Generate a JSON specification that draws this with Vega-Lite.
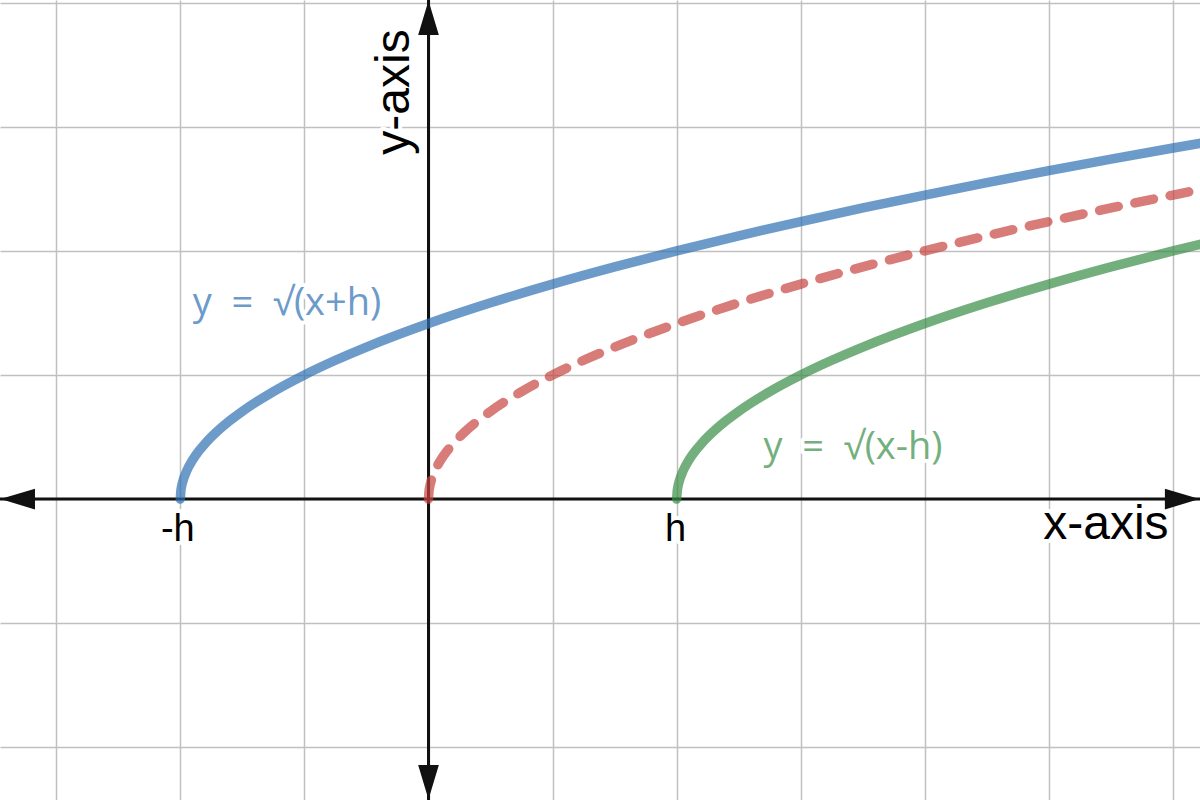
{
  "$schema": "https://vega.github.io/schema/vega-lite/v6.json",
  "width": 1200,
  "height": 800,
  "autosize": "none",
  "padding": 0,
  "background": "white",
  "config": {
    "view": {"stroke": null},
    "axis": {"grid": true, "gridColor": "#c0c0c0", "gridWidth": 1.5, "labels": false, "ticks": false, "domain": false, "title": null}
  },
  "datasets": {
    "curves": [
      {"curve": "blue", "x": -2, "y": 0},
      {"curve": "blue", "x": -1.995, "y": 0.0707},
      {"curve": "blue", "x": -1.99, "y": 0.1},
      {"curve": "blue", "x": -1.98, "y": 0.1414},
      {"curve": "blue", "x": -1.95, "y": 0.2236},
      {"curve": "blue", "x": -1.9, "y": 0.3162},
      {"curve": "blue", "x": -1.85, "y": 0.3873},
      {"curve": "blue", "x": -1.8, "y": 0.4472},
      {"curve": "blue", "x": -1.7, "y": 0.5477},
      {"curve": "blue", "x": -1.6, "y": 0.6325},
      {"curve": "blue", "x": -1.5, "y": 0.7071},
      {"curve": "blue", "x": -1.25, "y": 0.866},
      {"curve": "blue", "x": -1, "y": 1},
      {"curve": "blue", "x": -0.75, "y": 1.118},
      {"curve": "blue", "x": -0.5, "y": 1.2247},
      {"curve": "blue", "x": 0, "y": 1.4142},
      {"curve": "blue", "x": 0.5, "y": 1.5811},
      {"curve": "blue", "x": 1, "y": 1.7321},
      {"curve": "blue", "x": 1.5, "y": 1.8708},
      {"curve": "blue", "x": 2, "y": 2},
      {"curve": "blue", "x": 2.5, "y": 2.1213},
      {"curve": "blue", "x": 3, "y": 2.2361},
      {"curve": "blue", "x": 3.5, "y": 2.3452},
      {"curve": "blue", "x": 4, "y": 2.4495},
      {"curve": "blue", "x": 4.5, "y": 2.5495},
      {"curve": "blue", "x": 5, "y": 2.6458},
      {"curve": "blue", "x": 5.5, "y": 2.7386},
      {"curve": "blue", "x": 6, "y": 2.8284},
      {"curve": "blue", "x": 6.5, "y": 2.9155},
      {"curve": "red", "x": 0, "y": 0},
      {"curve": "red", "x": 0.005, "y": 0.0707},
      {"curve": "red", "x": 0.01, "y": 0.1},
      {"curve": "red", "x": 0.02, "y": 0.1414},
      {"curve": "red", "x": 0.05, "y": 0.2236},
      {"curve": "red", "x": 0.1, "y": 0.3162},
      {"curve": "red", "x": 0.15, "y": 0.3873},
      {"curve": "red", "x": 0.2, "y": 0.4472},
      {"curve": "red", "x": 0.3, "y": 0.5477},
      {"curve": "red", "x": 0.4, "y": 0.6325},
      {"curve": "red", "x": 0.5, "y": 0.7071},
      {"curve": "red", "x": 0.75, "y": 0.866},
      {"curve": "red", "x": 1, "y": 1},
      {"curve": "red", "x": 1.25, "y": 1.118},
      {"curve": "red", "x": 1.5, "y": 1.2247},
      {"curve": "red", "x": 2, "y": 1.4142},
      {"curve": "red", "x": 2.5, "y": 1.5811},
      {"curve": "red", "x": 3, "y": 1.7321},
      {"curve": "red", "x": 3.5, "y": 1.8708},
      {"curve": "red", "x": 4, "y": 2},
      {"curve": "red", "x": 4.5, "y": 2.1213},
      {"curve": "red", "x": 5, "y": 2.2361},
      {"curve": "red", "x": 5.5, "y": 2.3452},
      {"curve": "red", "x": 6, "y": 2.4495},
      {"curve": "red", "x": 6.5, "y": 2.5495},
      {"curve": "green", "x": 2, "y": 0},
      {"curve": "green", "x": 2.005, "y": 0.0707},
      {"curve": "green", "x": 2.01, "y": 0.1},
      {"curve": "green", "x": 2.02, "y": 0.1414},
      {"curve": "green", "x": 2.05, "y": 0.2236},
      {"curve": "green", "x": 2.1, "y": 0.3162},
      {"curve": "green", "x": 2.15, "y": 0.3873},
      {"curve": "green", "x": 2.2, "y": 0.4472},
      {"curve": "green", "x": 2.3, "y": 0.5477},
      {"curve": "green", "x": 2.4, "y": 0.6325},
      {"curve": "green", "x": 2.5, "y": 0.7071},
      {"curve": "green", "x": 2.75, "y": 0.866},
      {"curve": "green", "x": 3, "y": 1},
      {"curve": "green", "x": 3.25, "y": 1.118},
      {"curve": "green", "x": 3.5, "y": 1.2247},
      {"curve": "green", "x": 4, "y": 1.4142},
      {"curve": "green", "x": 4.5, "y": 1.5811},
      {"curve": "green", "x": 5, "y": 1.7321},
      {"curve": "green", "x": 5.5, "y": 1.8708},
      {"curve": "green", "x": 6, "y": 2},
      {"curve": "green", "x": 6.5, "y": 2.1213}
    ],
    "labels": [
      {"text": "-h", "x": -2.02, "y": -0.25, "color": "black", "font": "Liberation Sans", "size": 38, "angle": 0},
      {"text": "h", "x": 1.99, "y": -0.25, "color": "black", "font": "Liberation Sans", "size": 38, "angle": 0},
      {"text": "x-axis", "x": 5.459, "y": -0.21, "color": "black", "font": "Liberation Sans", "size": 48, "angle": 0},
      {"text": "y-axis", "x": -0.27, "y": 3.28, "color": "black", "font": "Liberation Sans", "size": 48, "angle": 270},
      {"text": "y\u00a0\u00a0=\u00a0\u00a0√(x+h)", "x": -1.14, "y": 1.575, "color": "blue", "font": "Open Sans", "size": 38, "angle": 0},
      {"text": "y\u00a0\u00a0=\u00a0\u00a0√(x-h)", "x": 3.421, "y": 0.415, "color": "green", "font": "Open Sans", "size": 38, "angle": 0}
    ]
  },
  "encoding": {
    "x": {"type": "quantitative", "scale": {"domain": [-3.453, 6.217], "nice": false, "zero": false}, "axis": {"values": [-3, -2, -1, 0, 1, 2, 3, 4, 5, 6]}},
    "y": {"type": "quantitative", "scale": {"domain": [-2.425, 4.021], "nice": false, "zero": false}, "axis": {"values": [-2, -1, 0, 1, 2, 3, 4]}}
  },
  "layer": [
    {
      "data": {"name": "labels"},
      "transform": [{"filter": "datum.font == 'Liberation Sans'"}],
      "mark": {"type": "text", "align": "center", "baseline": "middle", "stroke": "white", "strokeWidth": 8, "strokeJoin": "round", "font": "Liberation Sans"},
      "encoding": {
        "x": {"field": "x", "type": "quantitative"},
        "y": {"field": "y", "type": "quantitative"},
        "text": {"field": "text"},
        "size": {"field": "size", "type": "quantitative", "scale": null},
        "angle": {"field": "angle", "type": "quantitative", "scale": null}
      }
    },
    {
      "data": {"name": "labels"},
      "transform": [{"filter": "datum.font == 'Open Sans'"}],
      "mark": {"type": "text", "align": "center", "baseline": "middle", "stroke": "white", "strokeWidth": 8, "strokeJoin": "round", "font": "Open Sans"},
      "encoding": {
        "x": {"field": "x", "type": "quantitative"},
        "y": {"field": "y", "type": "quantitative"},
        "text": {"field": "text"},
        "size": {"field": "size", "type": "quantitative", "scale": null}
      }
    },
    {
      "data": {"values": [{}]},
      "mark": {"type": "rule", "color": "#111111", "strokeWidth": 3},
      "encoding": {"y": {"datum": 0, "type": "quantitative"}}
    },
    {
      "data": {"values": [{}]},
      "mark": {"type": "rule", "color": "#111111", "strokeWidth": 3},
      "encoding": {"x": {"datum": 0, "type": "quantitative"}}
    },
    {
      "data": {"values": [{}]},
      "mark": {"type": "point", "shape": "M0,-1L0.6,1L-0.6,1Z", "size": 900, "filled": true, "fill": "#111111", "stroke": "#111111", "strokeWidth": 2, "opacity": 1},
      "encoding": {"x": {"datum": 0, "type": "quantitative"}, "y": {"datum": 3.868, "type": "quantitative"}}
    },
    {
      "data": {"values": [{}]},
      "mark": {"type": "point", "shape": "M0,1L0.6,-1L-0.6,-1Z", "size": 900, "filled": true, "fill": "#111111", "stroke": "#111111", "strokeWidth": 2, "opacity": 1},
      "encoding": {"x": {"datum": 0, "type": "quantitative"}, "y": {"datum": -2.272, "type": "quantitative"}}
    },
    {
      "data": {"values": [{}]},
      "mark": {"type": "point", "shape": "M-1,0L1,-0.6L1,0.6Z", "size": 900, "filled": true, "fill": "#111111", "stroke": "#111111", "strokeWidth": 2, "opacity": 1},
      "encoding": {"x": {"datum": -3.3, "type": "quantitative"}, "y": {"datum": 0, "type": "quantitative"}}
    },
    {
      "data": {"values": [{}]},
      "mark": {"type": "point", "shape": "M1,0L-1,-0.6L-1,0.6Z", "size": 900, "filled": true, "fill": "#111111", "stroke": "#111111", "strokeWidth": 2, "opacity": 1},
      "encoding": {"x": {"datum": 6.063, "type": "quantitative"}, "y": {"datum": 0, "type": "quantitative"}}
    },
    {
      "data": {"name": "curves"},
      "transform": [{"filter": "datum.curve == 'blue'"}],
      "mark": {"type": "line", "color": "#2d70b3", "opacity": 0.7, "strokeWidth": 9.5, "strokeCap": "round", "strokeJoin": "round", "interpolate": "monotone", "clip": true},
      "encoding": {"x": {"field": "x", "type": "quantitative"}, "y": {"field": "y", "type": "quantitative"}, "order": {"field": "x"}}
    },
    {
      "data": {"name": "curves"},
      "transform": [{"filter": "datum.curve == 'red'"}],
      "mark": {"type": "line", "color": "#c74440", "opacity": 0.7, "strokeWidth": 9.5, "strokeCap": "round", "strokeJoin": "round", "strokeDash": [19, 17], "interpolate": "monotone", "clip": true},
      "encoding": {"x": {"field": "x", "type": "quantitative"}, "y": {"field": "y", "type": "quantitative"}, "order": {"field": "x"}}
    },
    {
      "data": {"name": "curves"},
      "transform": [{"filter": "datum.curve == 'green'"}],
      "mark": {"type": "line", "color": "#388c46", "opacity": 0.7, "strokeWidth": 9.5, "strokeCap": "round", "strokeJoin": "round", "interpolate": "monotone", "clip": true},
      "encoding": {"x": {"field": "x", "type": "quantitative"}, "y": {"field": "y", "type": "quantitative"}, "order": {"field": "x"}}
    },
    {
      "data": {"name": "labels"},
      "transform": [{"filter": "datum.font == 'Liberation Sans'"}],
      "mark": {"type": "text", "align": "center", "baseline": "middle", "font": "Liberation Sans"},
      "encoding": {
        "x": {"field": "x", "type": "quantitative"},
        "y": {"field": "y", "type": "quantitative"},
        "text": {"field": "text"},
        "size": {"field": "size", "type": "quantitative", "scale": null},
        "angle": {"field": "angle", "type": "quantitative", "scale": null},
        "color": {"field": "color", "type": "nominal", "scale": {"domain": ["black", "blue", "green"], "range": ["#000000", "#6c9bca", "#74af7e"]}, "legend": null}
      }
    },
    {
      "data": {"name": "labels"},
      "transform": [{"filter": "datum.font == 'Open Sans'"}],
      "mark": {"type": "text", "align": "center", "baseline": "middle", "font": "Open Sans"},
      "encoding": {
        "x": {"field": "x", "type": "quantitative"},
        "y": {"field": "y", "type": "quantitative"},
        "text": {"field": "text"},
        "size": {"field": "size", "type": "quantitative", "scale": null},
        "color": {"field": "color", "type": "nominal", "scale": {"domain": ["black", "blue", "green"], "range": ["#000000", "#6c9bca", "#74af7e"]}, "legend": null}
      }
    }
  ]
}
